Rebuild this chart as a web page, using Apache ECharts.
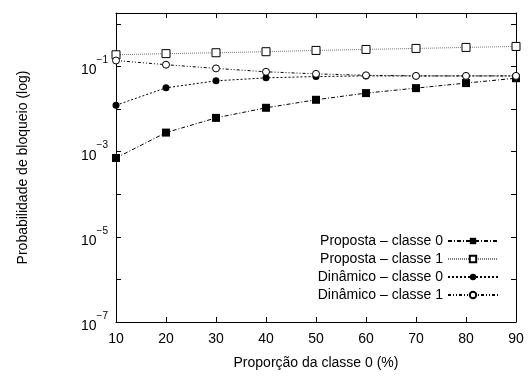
<!DOCTYPE html>
<html>
<head>
<meta charset="utf-8">
<script src="https://cdn.jsdelivr.net/npm/echarts@6/dist/echarts.min.js"></script>
<style>
  html, body { margin: 0; padding: 0; background: #fff; }
  #main { width: 528px; height: 376px; }
</style>
</head>
<body>
<div id="main"></div>
<script>
// proporção da classe 0 (%)
var proporcao = [10, 20, 30, 40, 50, 60, 70, 80, 90];
// probabilidades de bloqueio
var propostaClasse0 = [7.1e-4, 2.8e-3, 6.2e-3, 1.07e-2, 1.65e-2, 2.37e-2, 3.1e-2, 4.07e-2, 5.3e-2];
var propostaClasse1 = [0.188, 0.2, 0.21, 0.222, 0.238, 0.251, 0.265, 0.28, 0.295];
var dinamicoClasse0 = [1.23e-2, 3.15e-2, 4.6e-2, 5.4e-2, 5.8e-2, 6.0e-2, 6.0e-2, 6.0e-2, 6.0e-2];
var dinamicoClasse1 = [0.138, 0.11, 0.09, 0.075, 0.067, 0.062, 0.06, 0.06, 0.06];
var xTickValues = [10, 20, 30, 40, 50, 60, 70, 80, 90];
var yLabelValues = [1e-7, 1e-5, 1e-3, 1e-1];
var yTickValues = [1e-7, 1e-6, 1e-5, 1e-4, 1e-3, 1e-2, 1e-1, 1];
var nomes = ['Proposta – classe 0', 'Proposta – classe 1', 'Dinâmico – classe 0', 'Dinâmico – classe 1'];

function pares(ys) {
    return ys.map(function (v, i) { return [proporcao[i], v]; });
}

var fonte = 'Liberation Sans, Arial, sans-serif';
var chart = echarts.init(document.getElementById('main'));

// os ticks só aparecem com customValues no v6
var eixoX = {
    type: 'value', min: 10, max: 90, interval: 10,
    axisLine: { show: true, lineStyle: { color: '#000', width: 1 } },
    axisTick: { show: true, inside: true, length: 5, customValues: xTickValues, lineStyle: { color: '#000', width: 1 } },
    splitLine: { show: false }
};
var eixoY = {
    type: 'log', logBase: 10, min: 1e-7, max: 1.8,
    axisLine: { show: true, lineStyle: { color: '#000', width: 1 } },
    axisTick: { show: true, inside: true, length: 5, customValues: yTickValues, lineStyle: { color: '#000', width: 1 } },
    splitLine: { show: false },
    minorTick: { show: false }
};

var option = {
    animation: false,
    backgroundColor: '#fff',
    textStyle: { fontFamily: fonte },
    grid: { left: 116, right: 12, top: 13, bottom: 54 },
    xAxis: [
        Object.assign({}, eixoX, {
            position: 'bottom',
            name: 'Proporção da classe 0 (%)',
            nameLocation: 'middle', nameGap: 34,
            nameTextStyle: { fontSize: 14, color: '#000', fontFamily: fonte },
            axisLabel: { fontSize: 14, color: '#000', margin: 10, fontFamily: fonte }
        }),
        Object.assign({}, eixoX, { position: 'top', axisLabel: { show: false } })
    ],
    yAxis: [
        Object.assign({}, eixoY, {
            position: 'left',
            name: 'Probabilidade de bloqueio (log)',
            nameLocation: 'middle', nameGap: 86,
            nameTextStyle: { fontSize: 14, color: '#000', fontFamily: fonte },
            axisLabel: {
                customValues: yLabelValues,
                margin: 8,
                color: '#000',
                formatter: function (v) {
                    var e = Math.round(Math.log10(v));
                    return '{b|10}{s|−' + Math.abs(e) + '}';
                },
                rich: {
                    b: { fontSize: 14, color: '#000', fontFamily: fonte, lineHeight: 22, verticalAlign: 'bottom' },
                    s: { fontSize: 10, color: '#000', fontFamily: fonte, lineHeight: 22, verticalAlign: 'top' }
                }
            }
        }),
        Object.assign({}, eixoY, { position: 'right', axisLabel: { show: false } })
    ],
    legend: {
        orient: 'vertical',
        right: 24,
        bottom: 69,
        align: 'right',
        itemWidth: 50,
        itemHeight: 8,
        itemGap: 4,
        textStyle: { fontSize: 14, color: '#000', fontFamily: fonte },
        data: nomes
    },
    series: [
        {
            name: nomes[0], type: 'line', data: pares(propostaClasse0),
            symbol: 'rect', symbolSize: 8,
            itemStyle: { color: '#000', borderWidth: 0 },
            lineStyle: { color: '#000', width: 1, type: [4, 2, 1, 2] }
        },
        {
            name: nomes[1], type: 'line', data: pares(propostaClasse1),
            symbol: 'rect', symbolSize: 8,
            itemStyle: { color: '#fff', borderColor: '#000', borderWidth: 1 },
            lineStyle: { color: '#777', width: 1, type: [1, 1] }
        },
        {
            name: nomes[2], type: 'line', data: pares(dinamicoClasse0),
            symbol: 'circle', symbolSize: 7,
            itemStyle: { color: '#000', borderWidth: 0 },
            lineStyle: { color: '#000', width: 1, type: [2, 2] }
        },
        {
            name: nomes[3], type: 'line', data: pares(dinamicoClasse1),
            symbol: 'circle', symbolSize: 7,
            itemStyle: { color: '#fff', borderColor: '#000', borderWidth: 1 },
            lineStyle: { color: '#000', width: 1, type: [3, 2, 1, 2, 1, 2] }
        }
    ]
};
chart.setOption(option);
</script>
</body>
</html>
